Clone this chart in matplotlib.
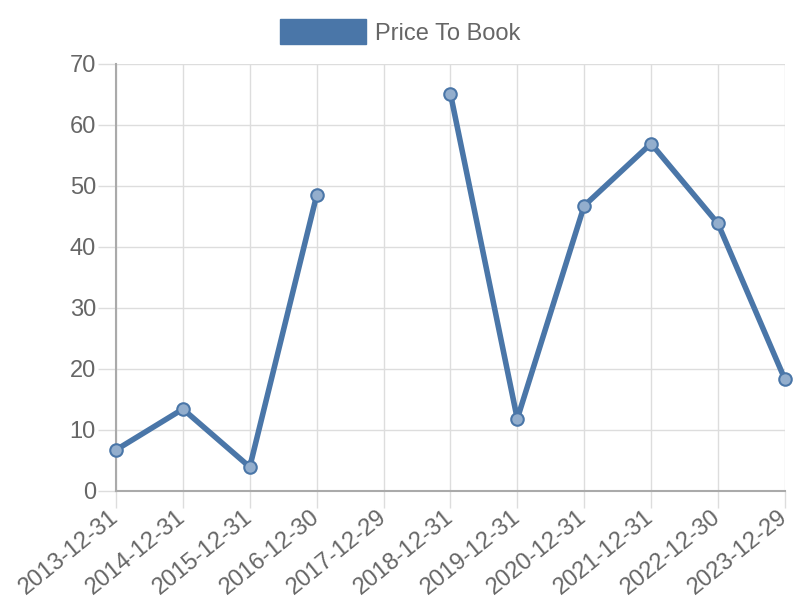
import numpy as np
import matplotlib
matplotlib.use("Agg")
import matplotlib.pyplot as plt
from matplotlib.patches import Patch

dates = ["2013-12-31", "2014-12-31", "2015-12-31", "2016-12-30", "2017-12-29",
         "2018-12-31", "2019-12-31", "2020-12-31", "2021-12-31", "2022-12-30",
         "2023-12-29"]
price_to_book = [6.7, 13.4, 3.9, 48.4, np.nan, 65.1, 11.8, 46.7, 56.9, 43.8, 18.3]

line_color = "#4a76a8"
text_color = "#666666"

plt.rcParams["font.family"] = ["Liberation Sans", "DejaVu Sans"]

fig = plt.figure(figsize=(8, 6), dpi=100)
ax = fig.add_axes([0.145, 0.182, 0.836, 0.712])

x = np.arange(len(dates))
ax.plot(x, price_to_book, color=line_color, linewidth=4, marker="o",
        markersize=9, markerfacecolor="#93aecd", markeredgecolor=line_color,
        markeredgewidth=1.5, zorder=3, clip_on=False)

ax.set_xlim(0, len(dates) - 1)
ax.set_ylim(0, 70)
ax.set_yticks(range(0, 71, 10))
ax.set_xticks(x)
ax.set_xticklabels(dates, rotation=39, ha="right", va="center",
                   rotation_mode="anchor")
ax.tick_params(axis="both", labelsize=17, colors=text_color, color="#dddddd",
               width=1)
ax.tick_params(axis="y", length=13, pad=1.5)
ax.tick_params(axis="x", length=12, pad=5)
for lbl in ax.get_xticklabels() + ax.get_yticklabels():
    lbl.set_color(text_color)

ax.grid(True, color="#dddddd", linewidth=1)
ax.set_axisbelow(True)
for side in ["top", "right"]:
    ax.spines[side].set_visible(False)
for side in ["left", "bottom"]:
    ax.spines[side].set_color("#aaaaaa")
    ax.spines[side].set_linewidth(1.5)

handle = Patch(facecolor=line_color, edgecolor=line_color)
fig.legend(handles=[handle], labels=["Price To Book"], loc="center",
           bbox_to_anchor=(0.5, 1 - 32 / 600), frameon=False, fontsize=17,
           handlelength=3.65, handleheight=1.27, handletextpad=0.4,
           labelcolor=text_color)

fig.savefig("out.png", dpi=100)
